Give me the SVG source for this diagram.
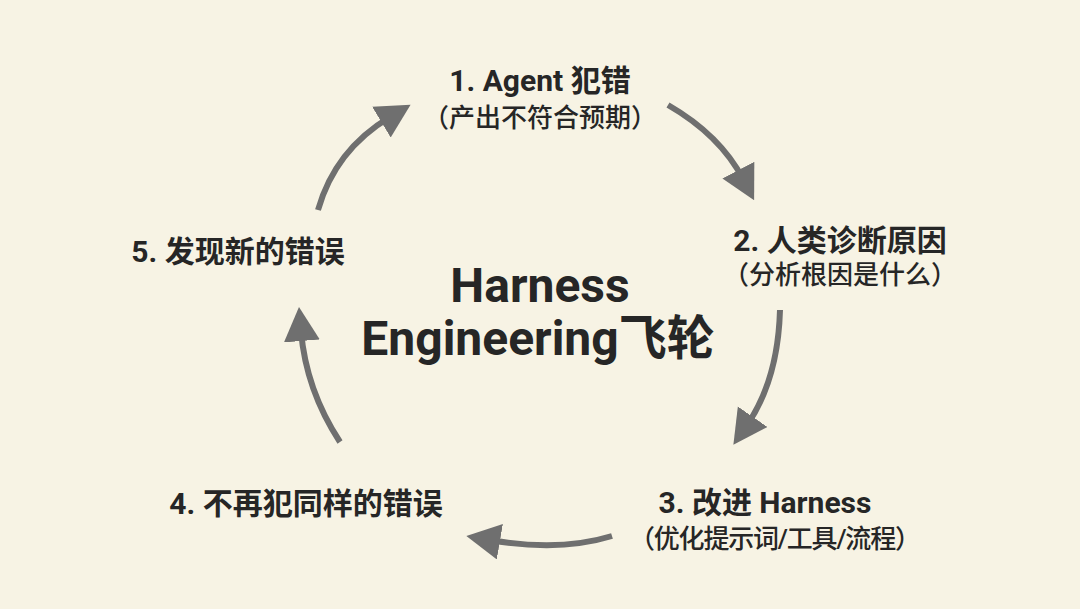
<svg xmlns="http://www.w3.org/2000/svg" width="1080" height="609" viewBox="0 0 1080 609">
<defs>
<style>
.t{font-family:Roboto,"Noto Sans CJK SC",sans-serif;fill:#262626;text-anchor:middle}
.h{font-size:30px;font-weight:700}
.s{font-size:26px;font-weight:500}
.c{font-size:48px;font-weight:700}
.a{fill:none;stroke:#6f6f6f;stroke-width:6;marker-end:url(#ah)}
</style>
<marker id="ah" markerUnits="userSpaceOnUse" markerWidth="36" markerHeight="38" refX="10" refY="18" orient="auto">
<path d="M0,0 L34,18 L0,36 z" fill="#6f6f6f"/>
</marker>
</defs>
<rect width="1080" height="609" fill="#f7f3e4"/>
<g id="connectors">
<path class="a" d="M318,210 Q335,150 390,117"/>
<path class="a" d="M668,105 Q720,135 743,179"/>
<path class="a" d="M780,310 Q778,380 747,425"/>
<path class="a" d="M612,536 Q560,552 490,540"/>
<path class="a" d="M340,442 Q306,390 301,331"/>
</g>
<g id="center"><text class="t c" x="540" y="302">Harness</text><text class="t c" x="538" y="355">Engineering飞轮</text></g>
<g id="n1"><text class="t h" x="540" y="91">1. Agent 犯错</text><text class="t s" x="540" y="127">（产出不符合预期）</text></g>
<g id="n2"><text class="t h" x="840" y="251">2. 人类诊断原因</text><text class="t s" x="840" y="284">（分析根因是什么）</text></g>
<g id="n3"><text class="t h" x="765" y="513">3. 改进 Harness</text><text class="t s" x="775" y="548" textLength="292" lengthAdjust="spacing">（优化提示词/工具/流程）</text></g>
<g id="n4"><text class="t h" x="306" y="514">4. 不再犯同样的错误</text></g>
<g id="n5"><text class="t h" x="238" y="262">5. 发现新的错误</text></g>
</svg>
